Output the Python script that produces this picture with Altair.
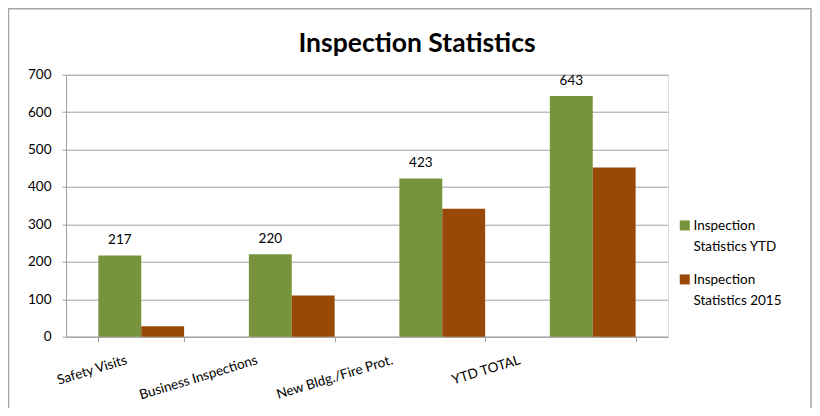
import altair as alt
import pandas as pd

categories = ["Safety Visits", "Business Inspections", "New Bldg./Fire Prot.", "YTD TOTAL"]
series_names = ["Inspection Statistics YTD", "Inspection Statistics 2015"]
ytd_values = [217, 220, 423, 643]
y2015_values = [28, 110, 342, 452]
y_ticks = [0, 100, 200, 300, 400, 500, 600, 700]
colors = ["#77933C", "#984807"]
title_text = "Inspection Statistics"

rows = []
for c, a, b in zip(categories, ytd_values, y2015_values):
    rows.append({"category": c, "series": series_names[0], "value": a})
    rows.append({"category": c, "series": series_names[1], "value": b})
df = pd.DataFrame(rows)

FONT = "Lato"
GRID = "#A0A0A0"

x_enc = alt.X(
    "category:N",
    sort=categories,
    title=None,
    scale=alt.Scale(paddingInner=0.43, paddingOuter=0.215),
    axis=alt.Axis(
        tickBand="extent",
        labelAngle=-17,
        labelAlign="right",
        labelBaseline="alphabetic",
        labelPadding=21.5,
        labelOffset=alt.ExprRef("[-14, -34, -49, -72][round(datum.index*3)]"),
        tickSize=5,
        tickColor=GRID,
        domainColor=GRID,
        labelFontSize=13.5,
        labelColor="black",
        labelFont=FONT,
    ),
)
xoff_enc = alt.XOffset("series:N", sort=series_names, scale=alt.Scale(domain=series_names))
y_enc = alt.Y(
    "value:Q",
    title=None,
    scale=alt.Scale(domain=[0, 700], nice=False),
    axis=alt.Axis(
        values=y_ticks,
        grid=True,
        gridColor=GRID,
        tickSize=4,
        tickColor=GRID,
        domainColor=GRID,
        labelPadding=11,
        labelFontSize=13.5,
        labelColor="black",
        labelFont=FONT,
    ),
)

bars = alt.Chart(df).mark_bar().encode(
    x=x_enc,
    xOffset=xoff_enc,
    y=y_enc,
    color=alt.Color(
        "series:N",
        sort=series_names,
        scale=alt.Scale(domain=series_names, range=colors),
        legend=alt.Legend(
            title=None,
            orient="none",
            legendX=612,
            legendY=149,
            symbolType="M-1,-2H1V0H-1Z",
            symbolSize=100,
            symbolStrokeWidth=0,
            labelFontSize=13.5,
            labelFont=FONT,
            labelColor="black",
            labelOffset=2,
            labelBaseline="alphabetic",
            rowPadding=18,
            labelExpr="[substring(datum.label, 0, 10), substring(datum.label, 11)]",
        ),
    ),
)

labels = (
    alt.Chart(df)
    .transform_filter(alt.datum.series == series_names[0])
    .mark_text(baseline="alphabetic", dy=-11.5, font=FONT, fontSize=13.5, color="black")
    .encode(x=x_enc, xOffset=xoff_enc, y=y_enc, text="value:Q")
)

title = (
    alt.Chart(alt.Data(values=[{"t": title_text}]))
    .mark_text(font=FONT, fontSize=26.5, fontWeight="bold", color="black",
               align="center", baseline="alphabetic")
    .encode(x=alt.value(351), y=alt.value(-22.5), text="t:N")
)

border = (
    alt.Chart(alt.Data(values=[{}]))
    .mark_rect(filled=False, stroke="#A6A6A6", strokeWidth=1.5)
    .encode(
        x=alt.value(-57.5),
        x2=alt.value(745),
        y=alt.value(-66),
        y2=alt.value(420),
    )
)

chart = (
    alt.layer(border, bars, labels, title)
    .properties(
        width=602,
        height=262,
        padding={"left": 58, "top": 66.7, "right": 144, "bottom": 71.3},
        autosize=alt.AutoSizeParams(type="none"),
    )
    .configure_view(stroke=None)
    .configure(font=FONT, style={"guide-label": {"lineHeight": 21}})
)

chart.save("out.html", embed_options={"renderer": "svg", "actions": False})
